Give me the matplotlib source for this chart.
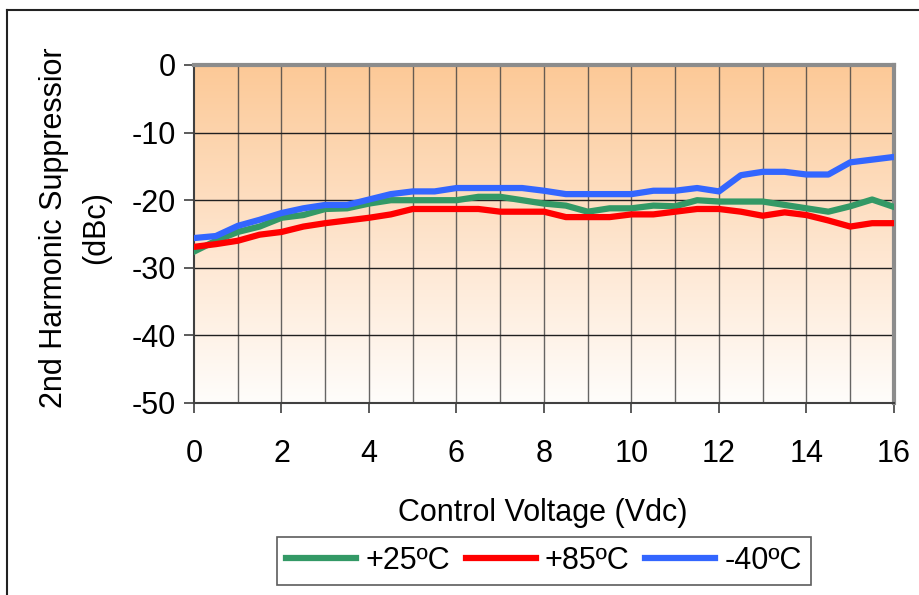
import matplotlib
matplotlib.use("Agg")
import matplotlib.pyplot as plt
import numpy as np
from matplotlib.colors import LinearSegmentedColormap
from matplotlib.lines import Line2D

plt.rcParams['font.family'] = ['Liberation Sans', 'DejaVu Sans']

voltage = [0, 0.5, 1, 1.5, 2, 2.5, 3, 3.5, 4, 4.5, 5, 5.5, 6, 6.5, 7, 7.5,
           8, 8.5, 9, 9.5, 10, 10.5, 11, 11.5, 12, 12.5, 13, 13.5, 14, 14.5,
           15, 15.5, 16]

temp_25 = [-27.6, -26.0, -24.7, -23.9, -22.6, -22.2, -21.3, -21.2, -20.5, -20.0,
           -20.0, -20.0, -20.0, -19.5, -19.5, -20.0, -20.5, -20.8, -21.7, -21.2,
           -21.2, -20.8, -20.9, -20.0, -20.2, -20.2, -20.2, -20.7, -21.2, -21.7,
           -20.9, -19.9, -21.0]

temp_85 = [-26.9, -26.5, -26.0, -25.1, -24.7, -23.9, -23.4, -23.0, -22.6, -22.1,
           -21.3, -21.3, -21.3, -21.3, -21.7, -21.7, -21.7, -22.5, -22.5, -22.5,
           -22.1, -22.1, -21.7, -21.3, -21.3, -21.7, -22.3, -21.8, -22.2, -23.0,
           -23.9, -23.4, -23.4]

temp_m40 = [-25.6, -25.3, -23.8, -22.9, -21.9, -21.2, -20.7, -20.7, -19.9, -19.1,
            -18.7, -18.7, -18.2, -18.2, -18.2, -18.2, -18.6, -19.1, -19.1, -19.1,
            -19.1, -18.6, -18.6, -18.2, -18.7, -16.3, -15.8, -15.8, -16.2, -16.2,
            -14.4, -14.0, -13.6]

series_labels = ['+25ºC', '+85ºC', '-40ºC']
series_colors = ['#339966', '#FF0000', '#3366FF']
x_ticks = [0, 2, 4, 6, 8, 10, 12, 14, 16]
y_ticks = [0, -10, -20, -30, -40, -50]

FS = 22

fig = plt.figure(figsize=(9.2, 5.95), dpi=100)
ax = fig.add_axes([194/920, 1-403/595, 700/920, 338/595])

# gradient background
cmap = LinearSegmentedColormap.from_list(
    'bg', [(0.0, '#FFFDFB'), (0.45, '#FEE6D0'), (1.0, '#FCC997')])
grad = np.linspace(0, 1, 256).reshape(-1, 1)
ax.imshow(grad, aspect='auto', cmap=cmap, origin='lower',
          extent=[0, 16, -50, 0], zorder=0)

ax.set_xlim(0, 16)
ax.set_ylim(-50, 0)

for xv in range(1, 17):
    ax.axvline(xv, color='#404040', lw=1.0, alpha=0.8, zorder=1)
for yv in [-10, -20, -30, -40]:
    ax.axhline(yv, color='#202020', lw=1.0, zorder=1)

for vals, c in zip([temp_25, temp_85, temp_m40], series_colors):
    ax.plot(voltage, vals, color=c, lw=4.5, zorder=3, solid_joinstyle='round')

ax.set_xticks(x_ticks)
ax.set_yticks(y_ticks)
ax.set_xticklabels([str(v) for v in x_ticks])
ax.set_yticklabels([str(v) for v in y_ticks])
ax.tick_params(axis='both', labelsize=FS, direction='out', length=7, width=1.2,
               color='#404040')
ax.tick_params(axis='x', pad=19)
ax.tick_params(axis='y', pad=6)

for s in ['left', 'bottom']:
    ax.spines[s].set_color('#404040')
    ax.spines[s].set_linewidth(1.5)
for s in ['top', 'right']:
    ax.spines[s].set_color('#8C8C8C')
    ax.spines[s].set_linewidth(3)

fig.text(54/920, 1-228/595, '2nd Harmonic Suppressior', rotation=90,
         fontsize=FS, ha='center', va='center')
fig.text(96/920, 1-228/595, '(dBc)', rotation=90,
         fontsize=FS, ha='center', va='center')
fig.text(543/920, 1-513/595, 'Control Voltage (Vdc)', fontsize=FS,
         ha='center', va='center')

handles = [Line2D([0], [0], color=c, lw=4.5) for c in series_colors]
leg = fig.legend(handles, series_labels, loc='center', bbox_to_anchor=(544/920, 1-561/595),
                 ncol=3, fontsize=FS, frameon=True, fancybox=False,
                 handlelength=2.3, handletextpad=0.3, columnspacing=0.5,
                 borderpad=0.3, edgecolor='#333333')
leg.get_frame().set_linewidth(1.2)

# outer border
fig.add_artist(Line2D([7/920, 7/920], [0, 1-10/595], color='#222222', lw=1.5,
                      transform=fig.transFigure))
fig.add_artist(Line2D([7/920, 1], [1-10/595, 1-10/595], color='#222222', lw=1.5,
                      transform=fig.transFigure))

fig.savefig('out.png', dpi=100)
